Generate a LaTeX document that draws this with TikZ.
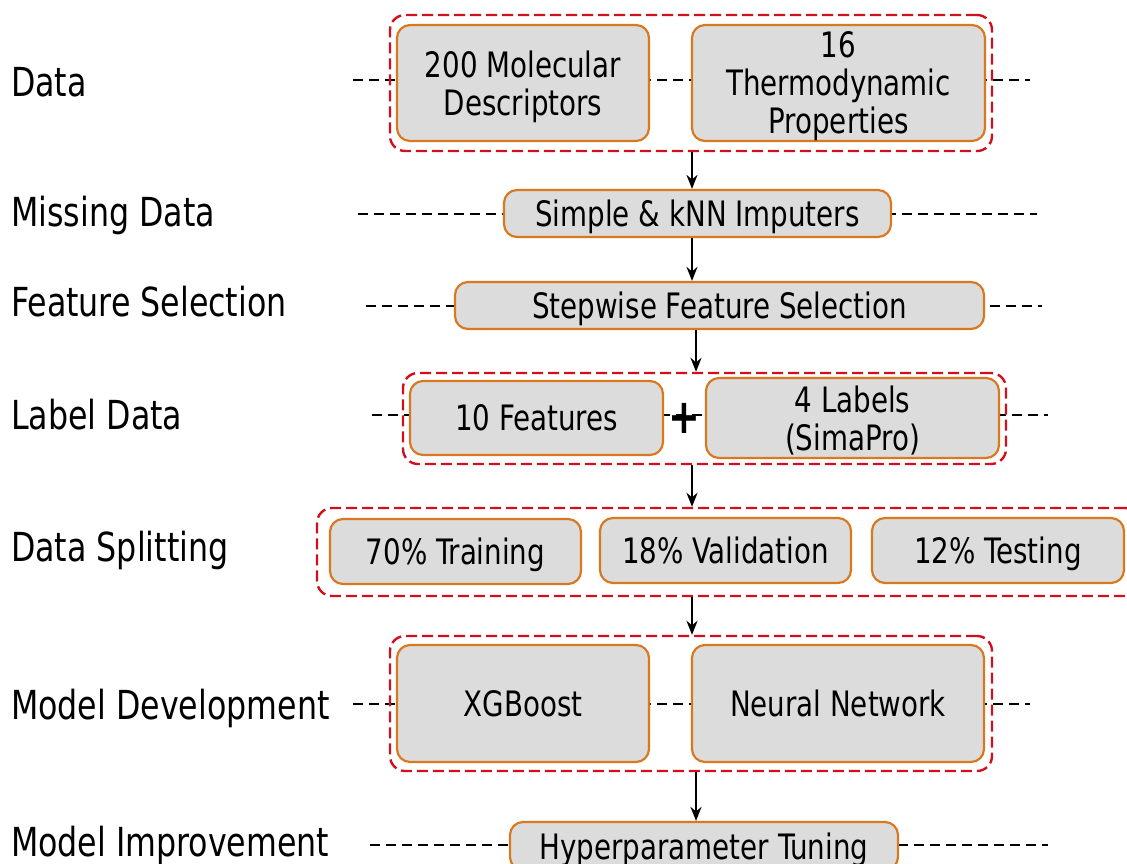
\documentclass[tikz,border=0pt]{standalone}
\usepackage{fontspec}
\setmainfont{DejaVu Sans Condensed}[FakeStretch=0.88]
\usetikzlibrary{arrows.meta}
\definecolor{boxfill}{HTML}{DCDCDC}
\definecolor{boxline}{HTML}{D9791F}
\definecolor{grpred}{HTML}{D0101E}
\begin{document}
\begin{tikzpicture}[x=1pt,y=-1pt,
  stepbox/.style={draw=boxline, fill=boxfill, line width=2.2pt, rounded corners=13pt,
    inner sep=0pt, text depth=0pt, align=center, font=\fontsize{35}{38}\selectfont},
  grp/.style={draw=grpred, dash pattern=on 11pt off 5pt, line width=2.4pt,
    rounded corners=15pt, inner sep=0pt},
  rowline/.style={draw=black, dash pattern=on 10pt off 6pt, line width=1.8pt},
  stagelabel/.style={anchor=west, inner sep=0pt, font=\fontsize{40}{44}\selectfont},
  flow/.style={-{Stealth[length=14pt,width=11pt]}, line width=2.6pt}]
\useasboundingbox (0,0) rectangle (1127,863);

% stage names
\node[stagelabel] (sData)  at (11,82)  {Data};
\node[stagelabel] (sMiss)  at (11,215) {Missing Data};
\node[stagelabel] (sFeat)  at (11,302) {Feature Selection};
\node[stagelabel] (sLab)   at (11,415) {Label Data};
\node[stagelabel] (sSplit) at (11,550) {Data Splitting};
\node[stagelabel] (sModel) at (11,708) {Model Development};
\node[stagelabel] (sImpr)  at (11,845) {Model Improvement};

% dashed guide lines behind each row
\coordinate (d1a) at (353,80);  \coordinate (d1b) at (1030,80);
\coordinate (d2a) at (358,214); \coordinate (d2b) at (1037,214);
\coordinate (d3a) at (366,306); \coordinate (d3b) at (1042,306);
\coordinate (d4a) at (372,415); \coordinate (d4b) at (1048,415);
\coordinate (d6a) at (353,704); \coordinate (d6b) at (1030,704);
\coordinate (d7a) at (370,845); \coordinate (d7b) at (1048,845);
\foreach \r in {1,2,3,4,6,7} \draw[rowline] (d\r a) -- (d\r b);

% row 1: data
\node[grp, minimum width=602pt, minimum height=136pt] (g1) at (691,83) {};
\node[stepbox, minimum width=252pt, minimum height=116pt] (desc) at (523,83)
  {200 Molecular\\Descriptors};
\node[stepbox, minimum width=293pt, minimum height=116pt] (thermo) at (838.5,83)
  {16\\Thermodynamic\\Properties};

% row 2: missing data
\node[stepbox, minimum width=387pt, minimum height=47pt] (imp) at (697.5,213.5)
  {Simple \& kNN Imputers};

% row 3: feature selection
\node[stepbox, minimum width=529pt, minimum height=47pt] (fsel) at (719.5,305.5)
  {Stepwise Feature Selection};

% row 4: label data
\node[grp, minimum width=603pt, minimum height=91pt] (g3) at (704.5,418.5) {};
\node[stepbox, minimum width=253pt, minimum height=74pt] (feat) at (536.5,418)
  {10 Features};
\node[stepbox, minimum width=293pt, minimum height=80pt] (labs) at (852.5,418)
  {4 Labels\\(SimaPro)};
\node[inner sep=0pt, font=\fontsize{48}{48}\selectfont\bfseries] (plus) at (684,418) {+};

% row 5: data splitting
\node[grp, minimum width=823pt, minimum height=88pt] (g4) at (728.5,552) {};
\node[stepbox, minimum width=251pt, minimum height=65pt] (train) at (455.5,551.5)
  {70\% Training};
\node[stepbox, minimum width=251pt, minimum height=65pt] (valid) at (725.5,550.5)
  {18\% Validation};
\node[stepbox, minimum width=252pt, minimum height=65pt] (test) at (998,550.5)
  {12\% Testing};

% row 6: model development
\node[grp, minimum width=602pt, minimum height=135pt] (g5) at (691,703.5) {};
\node[stepbox, minimum width=252pt, minimum height=117pt] (xgb) at (523,703.5)
  {XGBoost};
\node[stepbox, minimum width=292pt, minimum height=117pt] (nn) at (838,703.5)
  {Neural Network};

% row 7: model improvement
\node[stepbox, minimum width=388pt, minimum height=48pt] (hyp) at (704,846)
  {Hyperparameter Tuning};

% flow arrows
\draw[flow] ([xshift=1pt]g1.south) -- ([xshift=1pt]g1.south |- imp.north);
\draw[flow] ([xshift=-5.5pt]imp.south) -- ([xshift=-5.5pt]imp.south |- fsel.north);
\draw[flow] ([xshift=-23.5pt]fsel.south) -- ([xshift=-23.5pt]fsel.south |- g3.north);
\draw[flow] ([xshift=-12.5pt]g3.south) -- ([xshift=-12.5pt]g3.south |- g4.north);
\draw[flow] ([xshift=-36.5pt]g4.south) -- ([xshift=-36.5pt]g4.south |- g5.north);
\draw[flow] ([xshift=5pt]g5.south) -- ([xshift=5pt]g5.south |- hyp.north);
\end{tikzpicture}
\end{document}
